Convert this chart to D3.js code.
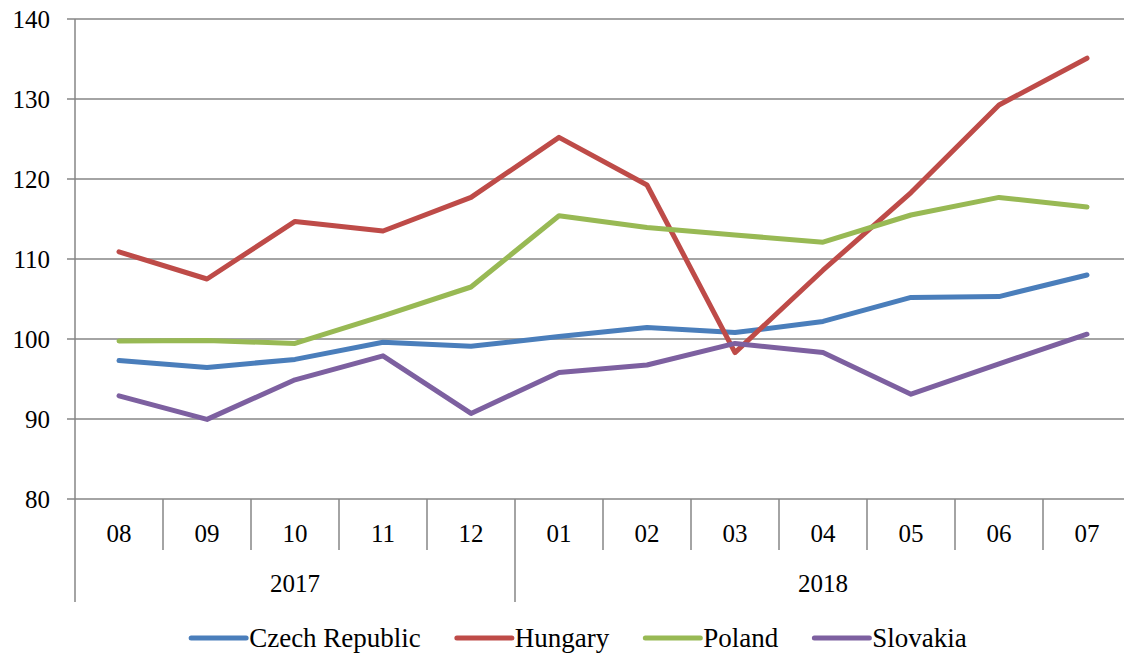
<!DOCTYPE html>
<html>
<head>
<meta charset="utf-8">
<script src="https://cdn.jsdelivr.net/npm/d3@7"></script>
<style>
  body { margin: 0; background: #fff; }
</style>
</head>
<body>
<div id="main"></div>
<script>
// data
let months = ["08", "09", "10", "11", "12", "01", "02", "03", "04", "05", "06", "07"]
let years = [{label: "2017", from: 0, to: 5}, {label: "2018", from: 5, to: 12}]
let yTicks = [80, 90, 100, 110, 120, 130, 140]

let czech    = [97.3, 96.45, 97.45, 99.6, 99.1, 100.3, 101.45, 100.8, 102.2, 105.2, 105.3, 108.0]
let hungary  = [110.9, 107.5, 114.7, 113.5, 117.7, 125.2, 119.25, 98.3, 108.6, 118.3, 129.25, 135.1]
let poland   = [99.75, 99.8, 99.45, 102.9, 106.5, 115.4, 113.95, 113.0, 112.1, 115.5, 117.7, 116.5]
let slovakia = [92.9, 89.95, 94.9, 97.9, 90.7, 95.8, 96.75, 99.45, 98.3, 93.1, 96.9, 100.6]

let seriesNames = ["Czech Republic", "Hungary", "Poland", "Slovakia"]
let seriesColors = ["#4a7ebb", "#be4b48", "#98b954", "#7d60a0"]
let series = [czech, hungary, poland, slovakia]

let W = 1124, H = 656
let margin = {top: 19, left: 75},
    plotRight = 1131,
    plotBottom = 499

let gridColor = "#868686"
let fontFamily = "'Liberation Serif', 'DejaVu Serif', serif"

let svg = d3.select("#main").append("svg")
    .attr("width", W)
    .attr("height", H)
    .attr("font-family", fontFamily)
    .style("font-family", fontFamily)

// scales
let x = d3.scaleBand()
    .domain(d3.range(months.length))
    .range([margin.left, plotRight])

let y = d3.scaleLinear()
    .domain([80, 140])
    .range([plotBottom, margin.top])

// horizontal grid + y tick marks
svg.append("g")
    .selectAll("line")
    .data(yTicks)
    .enter()
    .append("line")
    .attr("x1", margin.left - 8)
    .attr("x2", plotRight)
    .attr("y1", d => y(d))
    .attr("y2", d => y(d))
    .attr("stroke", gridColor)
    .attr("stroke-width", 1.5)

svg.append("g")
    .selectAll("text")
    .data(yTicks)
    .enter()
    .append("text")
    .attr("x", 50)
    .attr("y", d => y(d))
    .attr("dy", "0.35em")
    .attr("text-anchor", "end")
    .attr("font-size", "25px")
    .text(d => d)

// left axis line, runs down through the category area
svg.append("line")
    .attr("x1", margin.left).attr("x2", margin.left)
    .attr("y1", margin.top).attr("y2", 602)
    .attr("stroke", gridColor)
    .attr("stroke-width", 1.5)

// category separators
let seps = d3.range(1, months.length + 1)
svg.append("g")
    .selectAll("line")
    .data(seps)
    .enter()
    .append("line")
    .attr("x1", d => margin.left + d * x.bandwidth())
    .attr("x2", d => margin.left + d * x.bandwidth())
    .attr("y1", plotBottom)
    .attr("y2", d => years.some(yr => yr.to === d) ? 602 : 550)
    .attr("stroke", gridColor)
    .attr("stroke-width", 1.5)

// month labels
svg.append("g")
    .selectAll("text")
    .data(months)
    .enter()
    .append("text")
    .attr("x", (d, i) => x(i) + x.bandwidth() / 2)
    .attr("y", 533)
    .attr("dy", "0.35em")
    .attr("text-anchor", "middle")
    .attr("font-size", "25px")
    .text(d => d)

// year labels
svg.append("g")
    .selectAll("text")
    .data(years)
    .enter()
    .append("text")
    .attr("x", d => (x(d.from) + margin.left + d.to * x.bandwidth()) / 2)
    .attr("y", 583)
    .attr("dy", "0.35em")
    .attr("text-anchor", "middle")
    .attr("font-size", "25px")
    .text(d => d.label)

// lines
let line = d3.line()
    .x((d, i) => x(i) + x.bandwidth() / 2)
    .y(d => y(d))

svg.append("g")
    .selectAll("path")
    .data(series)
    .enter()
    .append("path")
    .attr("d", d => line(d))
    .attr("fill", "none")
    .attr("stroke", (d, i) => seriesColors[i])
    .attr("stroke-width", 5)
    .attr("stroke-linecap", "round")
    .attr("stroke-linejoin", "round")

// legend
let legend = svg.append("g")
let lineLen = 55, textGap = 3, itemGap = 36
let items = legend.selectAll("g.item")
    .data(seriesNames)
    .enter()
    .append("g")
    .attr("class", "item")

items.append("line")
    .attr("x1", 0).attr("x2", lineLen)
    .attr("y1", 0).attr("y2", 0)
    .attr("stroke", (d, i) => seriesColors[i])
    .attr("stroke-width", 5)
    .attr("stroke-linecap", "round")

items.append("text")
    .attr("x", lineLen + textGap)
    .attr("dy", "0.35em")
    .attr("font-size", "27px")
    .text(d => d)

let offset = 0, widths = []
items.each(function () {
    widths.push(lineLen + textGap + this.querySelector("text").getComputedTextLength())
})
let total = d3.sum(widths) + itemGap * (widths.length - 1)
let start = 579 - total / 2
items.attr("transform", (d, i) => {
    let tx = start + offset
    offset += widths[i] + itemGap
    return "translate(" + tx + ",638)"
})
</script>
</body>
</html>
